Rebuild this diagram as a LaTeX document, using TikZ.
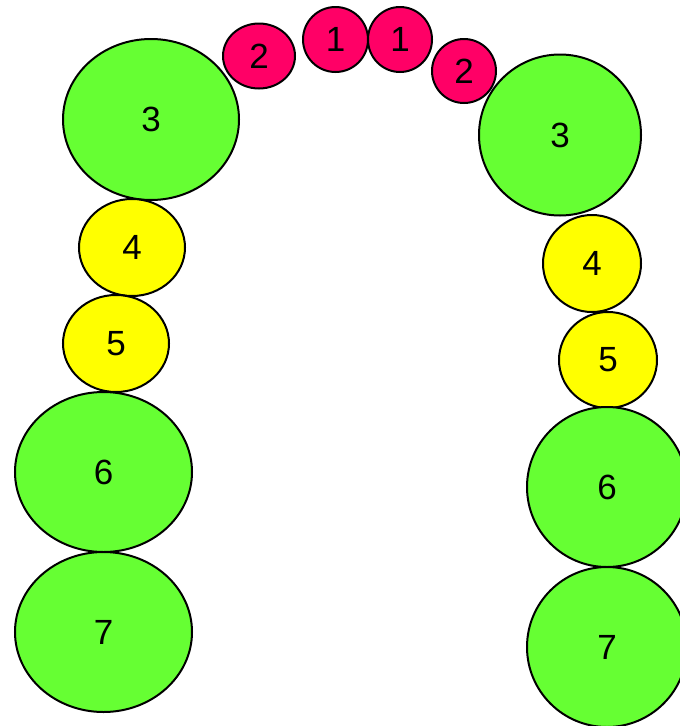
\documentclass[tikz,border=0pt]{standalone}
\usepackage{fontspec}
\setmainfont{Liberation Sans}
\usetikzlibrary{shapes.geometric}
\definecolor{cIncisor}{RGB}{255,0,102}
\definecolor{cMolar}{RGB}{102,255,51}
\definecolor{cPremolar}{RGB}{255,255,0}
\tikzset{
  tooth/.style={ellipse,draw=black,line width=2pt,inner sep=0pt,font=\fontsize{35}{35}\selectfont},
  incisor/.style={tooth,fill=cIncisor},
  premolar/.style={tooth,fill=cPremolar},
  molar/.style={tooth,fill=cMolar}
}

\begin{document}
\begin{tikzpicture}[x=1pt,y=-1pt]
  \useasboundingbox (0,0) rectangle (680,726);
  % upper front teeth
  \node[incisor,minimum width=72pt,minimum height=65pt] (l2) at (259,56) {2};
  \node[incisor,minimum width=65pt,minimum height=65pt] (l1) at (335.5,39.5) {1};
  \node[incisor,minimum width=64pt,minimum height=65pt] (r1) at (400,39.5) {1};
  \node[incisor,minimum width=64pt,minimum height=64pt] (r2) at (464,71) {2};
  % left side
  \node[molar,minimum width=176pt,minimum height=161pt] (l3) at (151,119.5) {3};
  \node[premolar,minimum width=106pt,minimum height=97pt] (l4) at (132,247.5) {4};
  \node[premolar,minimum width=106pt,minimum height=97pt] (l5) at (116,343.5) {5};
  \node[molar,minimum width=177pt,minimum height=160pt] (l6) at (103.5,472) {6};
  \node[molar,minimum width=177pt,minimum height=160pt] (l7) at (103.5,632) {7};
  % right side
  \node[molar,minimum width=162pt,minimum height=161pt] (r3) at (560,135) {3};
  \node[premolar,minimum width=98pt,minimum height=97pt] (r4) at (592,263.5) {4};
  \node[premolar,minimum width=98pt,minimum height=96pt] (r5) at (608,360) {5};
  \node[molar,minimum width=160pt,minimum height=160pt] (r6) at (607,487) {6};
  \node[molar,minimum width=160pt,minimum height=160pt] (r7) at (607,647) {7};
\end{tikzpicture}
\end{document}
